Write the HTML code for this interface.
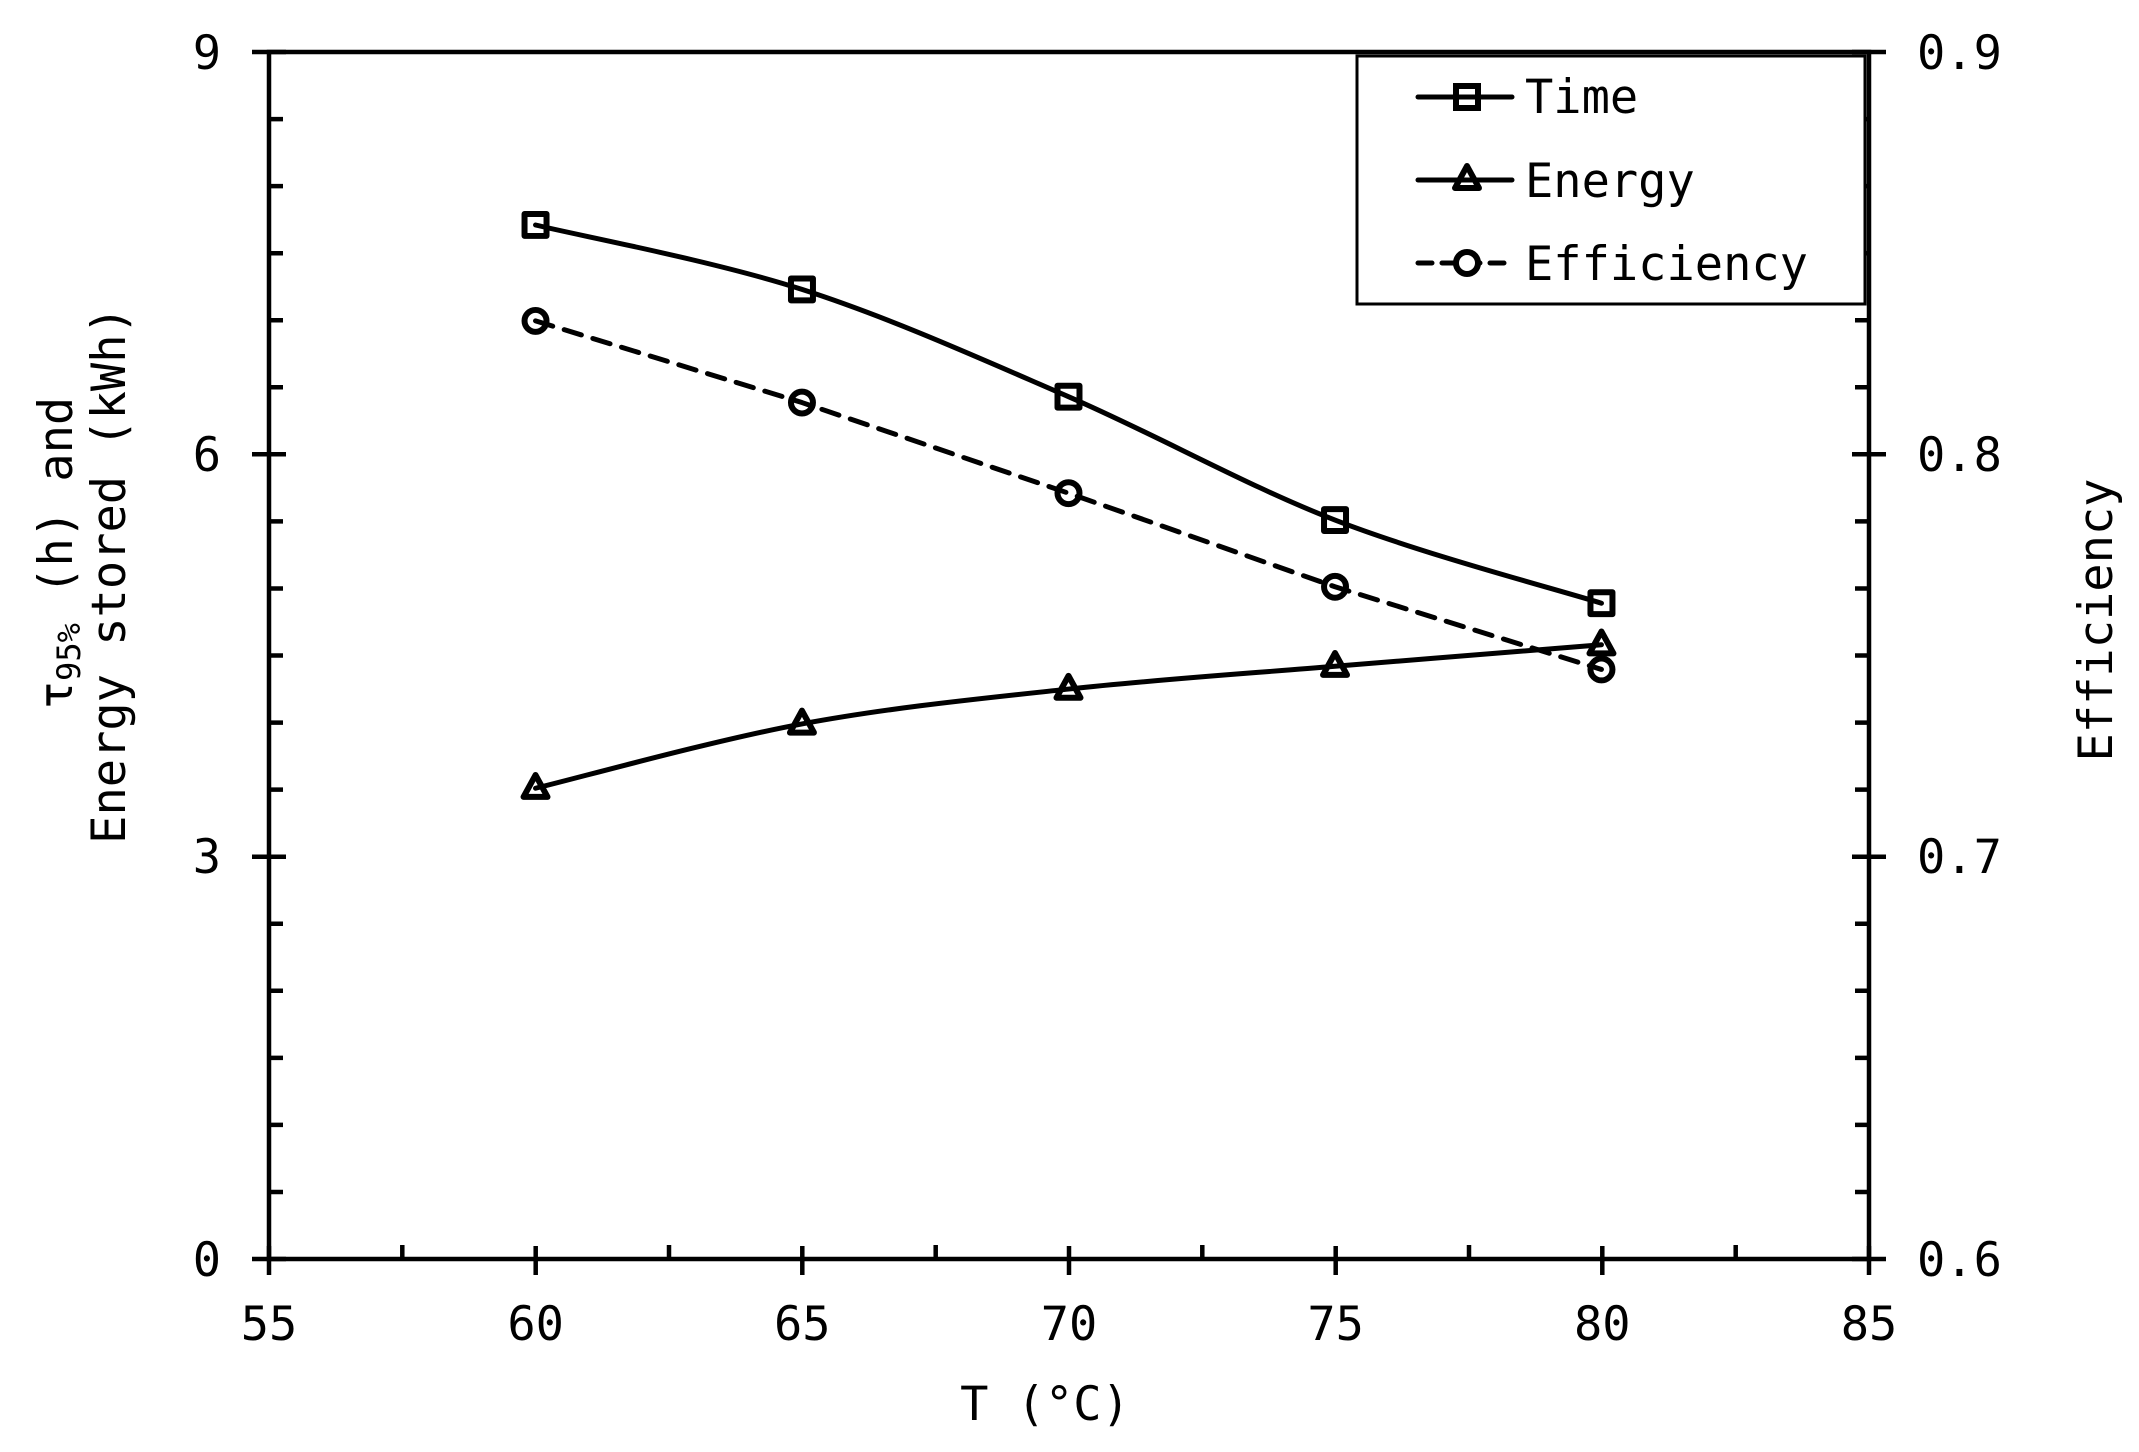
<!DOCTYPE html>
<html><head><meta charset="utf-8"><style>html,body{margin:0;padding:0;background:#fff}svg{display:block}</style></head>
<body>
<svg width="2139" height="1452" viewBox="0 0 2139 1452" xmlns="http://www.w3.org/2000/svg" font-family="'DejaVu Sans Mono','Liberation Mono',monospace" font-size="47" fill="#000">
<g stroke="#000" stroke-width="4.5" fill="none">
<rect x="269" y="52" width="1600" height="1207"/>
<path d="M252 52H286M252 454.3H286M252 856.7H286M252 1259H286"/>
<path d="M269 119.1H283M269 186.1H283M269 253.2H283M269 320.2H283M269 387.3H283M269 521.4H283M269 588.5H283M269 655.5H283M269 722.6H283M269 789.6H283M269 923.8H283M269 990.8H283M269 1057.9H283M269 1124.9H283M269 1192H283"/>
<path d="M1852 52H1886M1852 454.3H1886M1852 856.7H1886M1852 1259H1886"/>
<path d="M1855 119.1H1869M1855 186.1H1869M1855 253.2H1869M1855 320.2H1869M1855 387.3H1869M1855 521.4H1869M1855 588.5H1869M1855 655.5H1869M1855 722.6H1869M1855 789.6H1869M1855 923.8H1869M1855 990.8H1869M1855 1057.9H1869M1855 1124.9H1869M1855 1192H1869"/>
<path d="M269 1246V1275M535.7 1246V1275M802.3 1246V1275M1069 1246V1275M1335.7 1246V1275M1602.3 1246V1275M1869 1246V1275"/>
<path d="M402.3 1245V1259M669 1245V1259M935.7 1245V1259M1202.3 1245V1259M1469 1245V1259M1735.7 1245V1259"/>
</g>
<rect x="1357" y="56" width="508" height="248" fill="#fff" stroke="#000" stroke-width="3"/>
<g stroke="#000" stroke-width="5" fill="none" stroke-linecap="round">
<path d="M1418 97H1512"/><rect x="1456" y="86" width="22" height="22" stroke-width="6"/>
<path d="M1418 180H1512"/><path d="M1467 166L1479 188H1455Z" stroke-width="6" stroke-linejoin="round"/>
<path d="M1418 263H1512" stroke-dasharray="14 10"/><circle cx="1467" cy="263" r="11" stroke-width="6" fill="#fff"/>
</g>
<text x="1525" y="113">Time</text>
<text x="1525" y="197">Energy</text>
<text x="1525" y="280">Efficiency</text>
<g transform="translate(269,52) scale(0.99937,0.99587) translate(-270,-52)">
<g stroke="#000" stroke-width="5" fill="none" stroke-linecap="round" stroke-linejoin="round">
<path d="M536.7 225.7C581.1 236.5 714.4 261.7 803.3 290.4C892.2 319.1 981.1 359.5 1070 398.1C1158.9 436.7 1247.8 487.4 1336.7 522C1425.6 556.6 1558.9 591.6 1603.3 605.5"/>
<path d="M536.7 791.3C581.1 780.5 714.4 743.3 803.3 726.7C892.2 710.1 981.1 701.4 1070 691.7C1158.9 682 1247.8 676.2 1336.7 668.8C1425.6 661.4 1558.9 650.8 1603.3 647.2"/>
<path d="M536.7 322L803.3 404L1070 495L1336.7 589L1603.3 672" stroke-dasharray="18 12"/>
<g stroke-width="6">
<rect x="525.7" y="214.7" width="22" height="22"/><rect x="792.3" y="279.4" width="22" height="22"/><rect x="1059" y="387.1" width="22" height="22"/><rect x="1325.7" y="511" width="22" height="22"/><rect x="1592.3" y="594.5" width="22" height="22"/>
<path d="M536.7 778L548.7 800H524.7Z"/><path d="M803.3 713.4L815.3 735.4H791.3Z"/><path d="M1070 678.4L1082 700.4H1058Z"/><path d="M1336.7 655.5L1348.7 677.5H1324.7Z"/><path d="M1603.3 633.9L1615.3 655.9H1591.3Z"/>
<circle cx="536.7" cy="322" r="11"/><circle cx="803.3" cy="404" r="11"/><circle cx="1070" cy="495" r="11"/><circle cx="1336.7" cy="589" r="11"/><circle cx="1603.3" cy="672" r="11"/>
</g>
</g>
</g>
<g text-anchor="end">
<text x="221" y="69">9</text><text x="221" y="471">6</text><text x="221" y="873">3</text><text x="221" y="1276">0</text>
</g>
<g>
<text x="1917" y="69">0.9</text><text x="1917" y="471">0.8</text><text x="1917" y="873">0.7</text><text x="1917" y="1276">0.6</text>
</g>
<g text-anchor="middle">
<text x="269" y="1340">55</text><text x="535.7" y="1340">60</text><text x="802.3" y="1340">65</text><text x="1069" y="1340">70</text><text x="1335.7" y="1340">75</text><text x="1602.3" y="1340">80</text><text x="1869" y="1340">85</text>
<text x="1045" y="1420">T (°C)</text>
<text transform="translate(2112,620) rotate(-90)">Efficiency</text>
<text transform="translate(72,553) rotate(-90)">τ<tspan font-size="32" dy="8">95%</tspan><tspan dy="-8"> (h) and</tspan></text>
<text transform="translate(125,575) rotate(-90)">Energy stored (kWh)</text>
</g>
</svg>
</body></html>
